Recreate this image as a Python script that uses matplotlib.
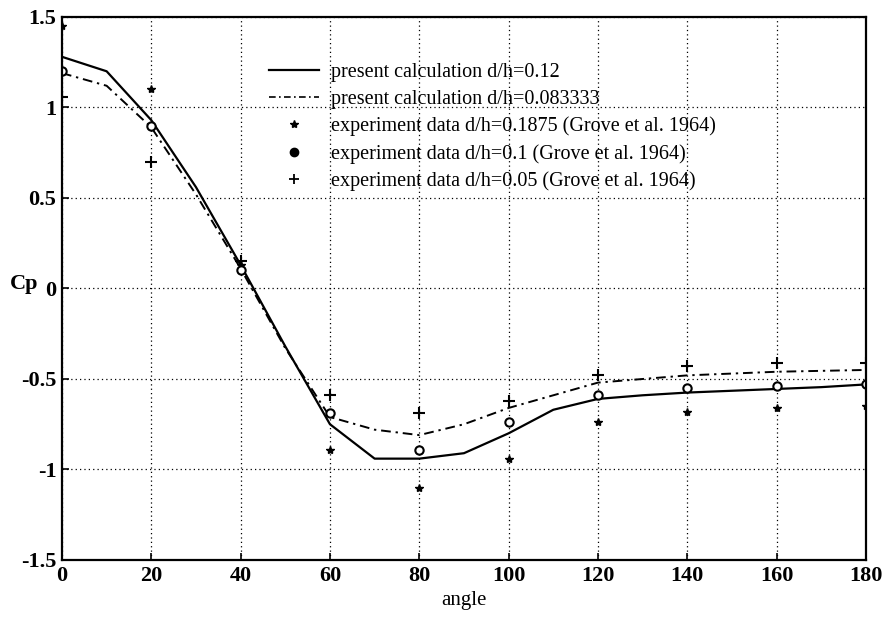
import matplotlib
matplotlib.use("Agg")
import matplotlib.pyplot as plt
from matplotlib.lines import Line2D

# Computed pressure coefficient around the cylinder
calc_angle = [0, 10, 20, 30, 40, 50, 60, 70, 80, 90, 100, 110, 120, 130, 140, 150, 160, 170, 180]
cp_012 = [1.28, 1.20, 0.93, 0.56, 0.13, -0.32, -0.75, -0.94, -0.94, -0.91, -0.80, -0.67, -0.61,
          -0.59, -0.575, -0.565, -0.555, -0.545, -0.53]
cp_0083 = [1.19, 1.12, 0.89, 0.52, 0.11, -0.33, -0.71, -0.78, -0.81, -0.75, -0.66, -0.59, -0.52,
           -0.50, -0.48, -0.47, -0.46, -0.455, -0.45]

# Measurements (Grove et al. 1964)
exp_angle = [0, 20, 40, 60, 80, 100, 120, 140, 160, 180]
cp_exp_01875 = [1.45, 1.10, 0.13, -0.89, -1.10, -0.94, -0.74, -0.68, -0.66, -0.65]
cp_exp_01 = [1.20, 0.90, 0.10, -0.69, -0.89, -0.74, -0.59, -0.55, -0.54, -0.53]
cp_exp_005 = [1.06, 0.70, 0.15, -0.59, -0.69, -0.62, -0.48, -0.43, -0.41, -0.41]

labels = [
    "present calculation d/h=0.12",
    "present calculation d/h=0.083333",
    "experiment data d/h=0.1875 (Grove et al. 1964)",
    "experiment data d/h=0.1 (Grove et al. 1964)",
    "experiment data d/h=0.05 (Grove et al. 1964)",
]

plt.rcParams["font.family"] = ["Liberation Serif", "DejaVu Serif"]

fig = plt.figure(figsize=(8.89, 6.36), dpi=100)
ax = fig.add_axes([0.0697, 0.1195, 0.9044, 0.8538])

ax.plot(calc_angle, cp_012, color="black", linewidth=1.6, linestyle="-")
ax.plot(calc_angle, cp_0083, color="black", linewidth=1.4, linestyle=(0, (5, 2.5, 1.2, 2.5)))
ax.plot(exp_angle, cp_exp_01875, linestyle="none", marker="*", markersize=6,
        color="black")
ax.plot(exp_angle, cp_exp_01, linestyle="none", marker="o", markersize=6,
        markerfacecolor="white", markeredgecolor="black", markeredgewidth=1.5)
ax.plot(exp_angle, cp_exp_005, linestyle="none", marker="+", markersize=9,
        markeredgewidth=1.5, color="black")

ax.set_xlim(0, 180)
ax.set_ylim(-1.5, 1.5)
ax.set_xticks(range(0, 181, 20))
ax.set_yticks([-1.5, -1, -0.5, 0, 0.5, 1, 1.5])
ax.set_yticklabels(["-1.5", "-1", "-0.5", "0", "0.5", "1", "1.5"])
ax.grid(True, color="black", linestyle=(0, (1, 2.5)), linewidth=0.9)
ax.tick_params(direction="in", length=5, width=1.2, labelsize=16, pad=4)
for lab in ax.get_xticklabels() + ax.get_yticklabels():
    lab.set_fontweight("bold")
for sp in ax.spines.values():
    sp.set_linewidth(1.6)

ax.set_xlabel("angle", fontsize=15, labelpad=4)
fig.text(0.011, 0.553, "Cp", fontsize=16, fontweight="bold", ha="left", va="center")

handles = [
    Line2D([], [], color="black", linewidth=1.6),
    Line2D([], [], color="black", linewidth=1.2, linestyle=(0, (4, 2, 1, 2))),
    Line2D([], [], linestyle="none", marker="*", markersize=6, color="black"),
    Line2D([], [], linestyle="none", marker="o", markersize=6, color="black"),
    Line2D([], [], linestyle="none", marker="+", markersize=7, markeredgewidth=1.3, color="black"),
]
ax.legend(handles, labels, loc="upper left", bbox_to_anchor=(0.247, 0.93),
          frameon=False, fontsize=14.5, handlelength=2.5, handletextpad=0.6,
          labelspacing=0.38, borderaxespad=0)

fig.savefig("out.png", dpi=100)
